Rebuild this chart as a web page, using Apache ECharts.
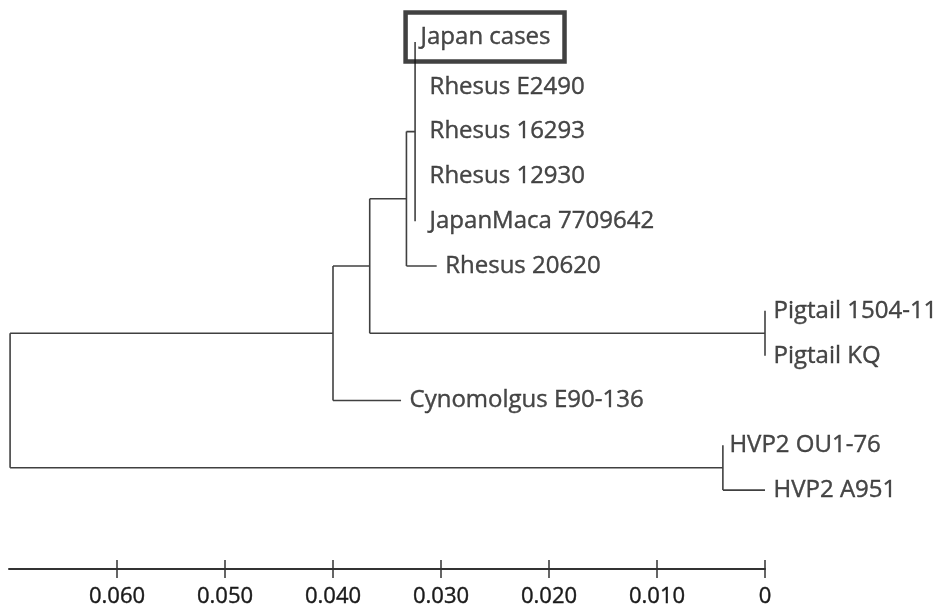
<!DOCTYPE html>
<html>
<head>
<meta charset="utf-8">
<script src="https://cdn.jsdelivr.net/npm/echarts@6/dist/echarts.min.js"></script>
<style>
  html, body { margin: 0; padding: 0; background: #fff; }
  #tree { width: 948px; height: 609px; }
</style>
</head>
<body>
<div id="tree"></div>
<script>
// leaves, top to bottom, with their distance on the scale (0 = right edge)
var leafNames = ['Japan cases', 'Rhesus E2490', 'Rhesus 16293', 'Rhesus 12930', 'JapanMaca 7709642',
    'Rhesus 20620', 'Pigtail 1504-11', 'Pigtail KQ', 'Cynomolgus E90-136', 'HVP2 OU1-76', 'HVP2 A951'];
var leafDist = [0.0324, 0.0324, 0.0324, 0.0324, 0.0324, 0.0304, 0, 0, 0.0337, 0.0039, 0];

// internal nodes
var nodeNames = ['root', 'n1', 'n2', 'n3', 'n4', 'pig', 'hvp'];
var nodeDist = [0.0699, 0.0400, 0.0366, 0.0332, 0.0324, 0, 0.0039];
var nodeChildren = [
    ['n1', 'hvp'],
    ['n2', 'Cynomolgus E90-136'],
    ['n3', 'pig'],
    ['n4', 'Rhesus 20620'],
    ['Japan cases', 'Rhesus E2490', 'Rhesus 16293', 'Rhesus 12930', 'JapanMaca 7709642'],
    ['Pigtail 1504-11', 'Pigtail KQ'],
    ['HVP2 OU1-76', 'HVP2 A951']
];

var tickValues = [0, 0.01, 0.02, 0.03, 0.04, 0.05, 0.06];
var tickLabels = ['0', '0.010', '0.020', '0.030', '0.040', '0.050', '0.060'];

var labelGap = { 'Rhesus E2490': 14, 'Rhesus 16293': 14, 'Rhesus 12930': 14, 'JapanMaca 7709642': 14, 'HVP2 OU1-76': 6 };

var line_color = '#404040';
var text_color = '#1a1a1a';

function getX(name) {
    var i = leafNames.indexOf(name);
    if (i >= 0) return leafDist[i];
    return nodeDist[nodeNames.indexOf(name)];
}
function getY(name) {
    var i = leafNames.indexOf(name);
    if (i >= 0) return i;
    var kids = nodeChildren[nodeNames.indexOf(name)].map(getY);
    return (Math.min.apply(null, kids) + Math.max.apply(null, kids)) / 2;
}

var segments = [];
nodeNames.forEach(function(n, k) {
    var x = nodeDist[k];
    var ys = nodeChildren[k].map(getY);
    segments.push({ coords: [[x, Math.min.apply(null, ys)], [x, Math.max.apply(null, ys)]] });
    nodeChildren[k].forEach(function(c) {
        segments.push({ coords: [[x, getY(c)], [getX(c), getY(c)]] });
    });
});

var leafPoints = leafNames.map(function(name, i) {
    var item = { name: name, value: [leafDist[i], i] };
    if (name === 'Japan cases') {
        item.label = {
            distance: -10,
            offset: [0, -5],
            padding: [14, 14, 11, 15],
            borderColor: '#111',
            borderWidth: 4.5
        };
    } else if (labelGap[name]) {
        item.label = { distance: labelGap[name] };
    }
    return item;
});

var chart = echarts.init(document.getElementById('tree'));

var gridTop = 20, gridBottom = 40;

var option = {
    animation: false,
    grid: { left: 9, right: 183, top: gridTop, bottom: gridBottom },
    xAxis: [{
        type: 'value',
        inverse: true,
        min: 0,
        max: 0.07,
        position: 'bottom',
        splitLine: { show: false },
        axisLine: { onZero: false, lineStyle: { color: '#333', width: 2 } },
        axisTick: {
            customValues: tickValues,
            length: 9,
            lineStyle: { color: '#333', width: 1.5 }
        },
        axisLabel: {
            customValues: tickValues,
            margin: 17,
            fontFamily: 'Open Sans',
            fontSize: 22,
            color: text_color,
            textBorderColor: text_color,
            textBorderWidth: 0.4,
            formatter: function(v) {
                var i = tickValues.indexOf(v);
                return i >= 0 ? tickLabels[i] : '';
            }
        }
    }, {
        // upper half of the ticks: a top axis pushed down onto the bottom line
        type: 'value',
        inverse: true,
        min: 0,
        max: 0.07,
        position: 'top',
        offset: -(609 - gridTop - gridBottom),
        splitLine: { show: false },
        axisLine: { show: false, onZero: false },
        axisLabel: { show: false },
        axisTick: {
            customValues: tickValues,
            length: 9,
            lineStyle: { color: '#333', width: 1.5 }
        }
    }],
    yAxis: {
        type: 'value',
        inverse: true,
        min: -0.49,
        max: 11.76,
        show: false
    },
    series: [{
        type: 'lines',
        coordinateSystem: 'cartesian2d',
        polyline: true,
        silent: true,
        lineStyle: { color: line_color, width: 1.6, opacity: 1 },
        data: segments
    }, {
        type: 'scatter',
        symbolSize: 1,
        itemStyle: { color: 'transparent' },
        label: {
            show: true,
            position: 'right',
            distance: 8,
            fontFamily: 'Open Sans',
            fontSize: 24,
            color: text_color,
            textBorderColor: text_color,
            textBorderWidth: 0.4,
            formatter: '{b}'
        },
        data: leafPoints
    }]
};

chart.setOption(option);
</script>
</body>
</html>
